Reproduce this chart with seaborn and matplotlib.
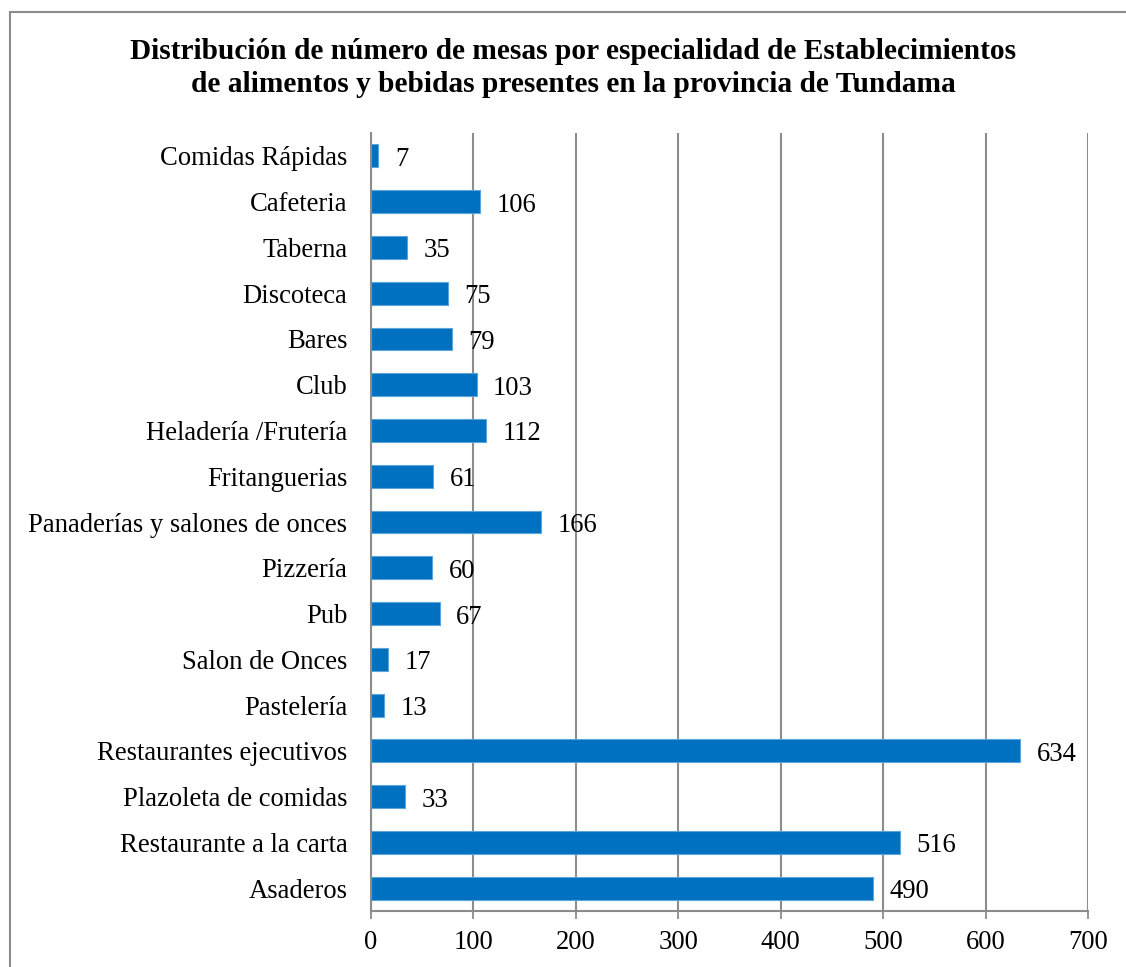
import matplotlib
matplotlib.use("Agg")
import matplotlib.pyplot as plt
from matplotlib.patches import Rectangle
import seaborn as sns
import pandas as pd
import numpy as np

categorias = [
    "Comidas Rápidas", "Cafeteria", "Taberna", "Discoteca", "Bares", "Club",
    "Heladería /Frutería", "Fritanguerias", "Panaderías y salones de onces",
    "Pizzería", "Pub", "Salon de Onces", "Pastelería",
    "Restaurantes ejecutivos", "Plazoleta de comidas",
    "Restaurante a la carta", "Asaderos",
]
mesas = [7, 106, 35, 75, 79, 103, 112, 61, 166, 60, 67, 17, 13, 634, 33, 516, 490]
ticks_x = [0, 100, 200, 300, 400, 500, 600, 700]
titulo = ("Distribución de número de mesas por especialidad de Establecimientos\n"
          "de alimentos y bebidas presentes en la provincia de Tundama")

sns.set_theme(style="white")
plt.rcParams["font.family"] = ["Liberation Serif", "DejaVu Serif"]
plt.rcParams["text.color"] = "black"

df = pd.DataFrame({"categoria": categorias, "mesas": mesas})

fig = plt.figure(figsize=(11.26, 9.67), dpi=100)
ax = fig.add_axes([371 / 1126, 1 - 911 / 967, (1088 - 371) / 1126, (911 - 133) / 967])

grid_col = "#8c8c8c"
blue = "#0070C0"
fs = 19.2

sns.barplot(data=df, x="mesas", y="categoria", order=categorias, color=blue,
            width=0.5, edgecolor="#5aa5dc", linewidth=0.8, saturation=1, ax=ax)

ax.set_xlim(0, 700)
ax.set_ylim(len(categorias) - 0.5, -0.5)
ax.set_xticks(ticks_x)
ax.set_xticklabels([str(t) for t in ticks_x], fontsize=fs)
ax.set_xlabel("")
ax.set_ylabel("")
ax.tick_params(axis="y", which="major", length=0, pad=17, labelsize=fs)
ax.set_yticks(np.arange(-0.5, len(categorias) + 0.5, 1), minor=True)
ax.tick_params(axis="y", which="minor", length=8, width=1.3, color=grid_col, direction="out")
ax.tick_params(axis="x", which="major", length=6, width=1.3, color=grid_col,
               direction="out", pad=8, bottom=True)
for lab in ax.get_yticklabels() + ax.get_xticklabels():
    lab.set_color("black")

ax.xaxis.grid(True, color=grid_col, linewidth=1.5)
ax.set_axisbelow(True)
for side in ["top", "right"]:
    ax.spines[side].set_visible(False)
for side in ["left", "bottom"]:
    ax.spines[side].set_color(grid_col)
    ax.spines[side].set_linewidth(1.5)

for i, v in enumerate(mesas):
    ax.annotate(str(v), xy=(v, i), xytext=(12, -2.5), textcoords="offset points",
                ha="left", va="center", fontsize=fs, color="black")

fig.text(573 / 1126, 1 - 68 / 967, titulo, ha="center", va="center",
         fontsize=21.2, fontweight="bold", linespacing=1.32, color="black")

fig.patches.append(Rectangle((10 / 1126, -0.05), 1.1, 1 - 12 / 967 + 0.05,
                             transform=fig.transFigure, fill=False,
                             edgecolor="#8c8c8c", linewidth=1.5))

fig.savefig("out.png", dpi=100)
